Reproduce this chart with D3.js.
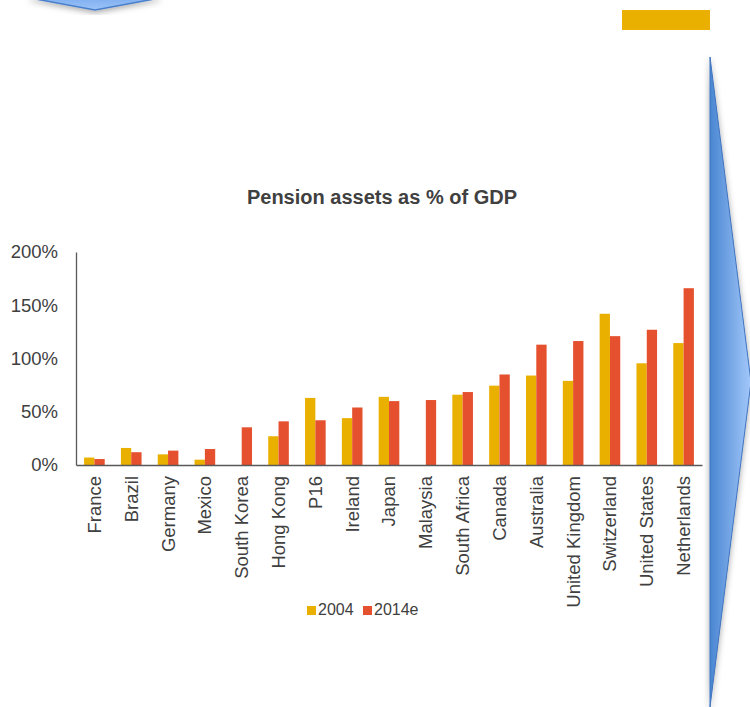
<!DOCTYPE html>
<html>
<head>
<meta charset="utf-8">
<script src="https://cdn.jsdelivr.net/npm/d3@7"></script>
<style>
    body { margin: 0; background: #fff; }
    text { font-family: "Liberation Sans", Arial, sans-serif; fill: #404040; }
</style>
</head>
<body>
<div id="chart"></div>
<script>
const Countries = ["France", "Brazil", "Germany", "Mexico", "South Korea", "Hong Kong", "P16",
    "Ireland", "Japan", "Malaysia", "South Africa", "Canada", "Australia",
    "United Kingdom", "Switzerland", "United States", "Netherlands"];

// % of GDP (0 = no bar)
const Values2004  = [7, 16, 10, 5, 0, 27, 63, 44, 64, 0, 66, 74.5, 84, 79, 142, 95.5, 114.5];
const Values2014e = [5.6, 12, 13.5, 15, 35.4, 41, 42, 54, 60, 61, 68.5, 85, 113, 116.4, 121, 127, 166];

const Series = ["2004", "2014e"];
const YTicks = [0, 0.5, 1, 1.5, 2];

const Color2004  = "#EAB000";
const Color2014e = "#E5512F";

function createChart() {
    const width = 750;
    const height = 707;

    const svg = d3.select("#chart").append("svg")
        .attr("width", width)
        .attr("height", height);

    const defs = svg.append("defs");

    const grad = defs.append("linearGradient")
        .attr("id", "arrowGrad")
        .attr("x1", "0%").attr("x2", "100%").attr("y1", "0%").attr("y2", "0%");
    grad.append("stop").attr("offset", "0%").attr("stop-color", "#4A86D2");
    grad.append("stop").attr("offset", "100%").attr("stop-color", "#A3C8FA");

    const topGrad = defs.append("linearGradient")
        .attr("id", "topGrad")
        .attr("x1", "0%").attr("x2", "0%").attr("y1", "0%").attr("y2", "100%");
    topGrad.append("stop").attr("offset", "0%").attr("stop-color", "#7FAEEF");
    topGrad.append("stop").attr("offset", "100%").attr("stop-color", "#9CC3F8");

    const shadow = defs.append("filter")
        .attr("id", "shadow")
        .attr("x", "-20%").attr("y", "-20%").attr("width", "140%").attr("height", "160%");
    shadow.append("feDropShadow")
        .attr("dx", 0).attr("dy", 2).attr("stdDeviation", 3)
        .attr("flood-color", "#000").attr("flood-opacity", 0.35);

    // decoration: chevron at top left
    svg.append("polygon")
        .attr("points", "30,-2 95,10 160,-2")
        .attr("fill", "url(#topGrad)")
        .attr("stroke", "#4A7FCA")
        .attr("stroke-width", 1.5)
        .attr("filter", "url(#shadow)");

    // decoration: yellow block top right
    svg.append("rect")
        .attr("x", 622).attr("y", 10)
        .attr("width", 88).attr("height", 20)
        .attr("fill", Color2004);

    // decoration: big arrow on the right
    svg.append("polygon")
        .attr("points", "710,57 751,382 710,707")
        .attr("fill", "url(#arrowGrad)")
        .attr("stroke", "#3F74C0")
        .attr("stroke-width", 1)
        .attr("filter", "url(#shadow)");

    const left = 76, right = 702, top = 252, bottom = 465;

    const x = d3.scaleBand()
        .domain(Countries)
        .range([left, right])
        .paddingInner(0.44)
        .paddingOuter(0.22);

    const xSub = d3.scaleBand()
        .domain(Series)
        .range([0, x.bandwidth()]);

    const y = d3.scaleLinear()
        .domain([0, 2])
        .range([bottom, top]);

    svg.append("text")
        .attr("x", 382)
        .attr("y", 204)
        .attr("text-anchor", "middle")
        .style("font-size", "20px")
        .style("font-weight", "bold")
        .text("Pension assets as % of GDP");

    const rows = Countries.map((c, i) => ({ country: c, values: [Values2004[i], Values2014e[i]] }));

    const groups = svg.append("g")
        .selectAll("g")
        .data(rows)
        .enter().append("g")
            .attr("transform", d => `translate(${x(d.country)},0)`);

    groups.selectAll("rect")
        .data(d => d.values.map((v, j) => ({ series: Series[j], value: v / 100 })))
        .enter().append("rect")
            .attr("x", d => xSub(d.series))
            .attr("y", d => y(d.value))
            .attr("width", xSub.bandwidth())
            .attr("height", d => y(0) - y(d.value))
            .attr("fill", d => d.series === "2004" ? Color2004 : Color2014e);

    // y axis
    const yAxis = svg.append("g")
        .attr("transform", `translate(${left},0)`)
        .call(d3.axisLeft(y).tickValues(YTicks).tickFormat(d3.format(".0%")).tickSize(0).tickPadding(18));
    yAxis.select(".domain").attr("stroke", "#595959").attr("stroke-width", 1.3);
    yAxis.selectAll("text")
        .style("font-size", "18.5px")
        .attr("fill", "#404040");

    // x axis
    const xAxis = svg.append("g")
        .attr("transform", `translate(0,${bottom})`)
        .call(d3.axisBottom(x).tickSize(0).tickSizeOuter(0));
    xAxis.select(".domain").attr("stroke", "#595959").attr("stroke-width", 1.3);
    xAxis.selectAll("text")
        .style("font-size", "18.5px")
        .attr("fill", "#404040")
        .attr("text-anchor", "end")
        .attr("transform", "rotate(-90)")
        .attr("x", -11)
        .attr("y", 0)
        .attr("dy", "0.35em");

    // legend
    const legend = svg.append("g")
        .attr("transform", "translate(307,606)");
    const items = legend.selectAll("g")
        .data(Series)
        .enter().append("g")
            .attr("transform", (d, i) => `translate(${i * 56},0)`);
    items.append("rect")
        .attr("width", 9).attr("height", 9)
        .attr("fill", d => d === "2004" ? Color2004 : Color2014e);
    items.append("text")
        .attr("x", 11)
        .attr("y", 9)
        .style("font-size", "16px")
        .text(d => d);
}

createChart();
</script>
</body>
</html>
